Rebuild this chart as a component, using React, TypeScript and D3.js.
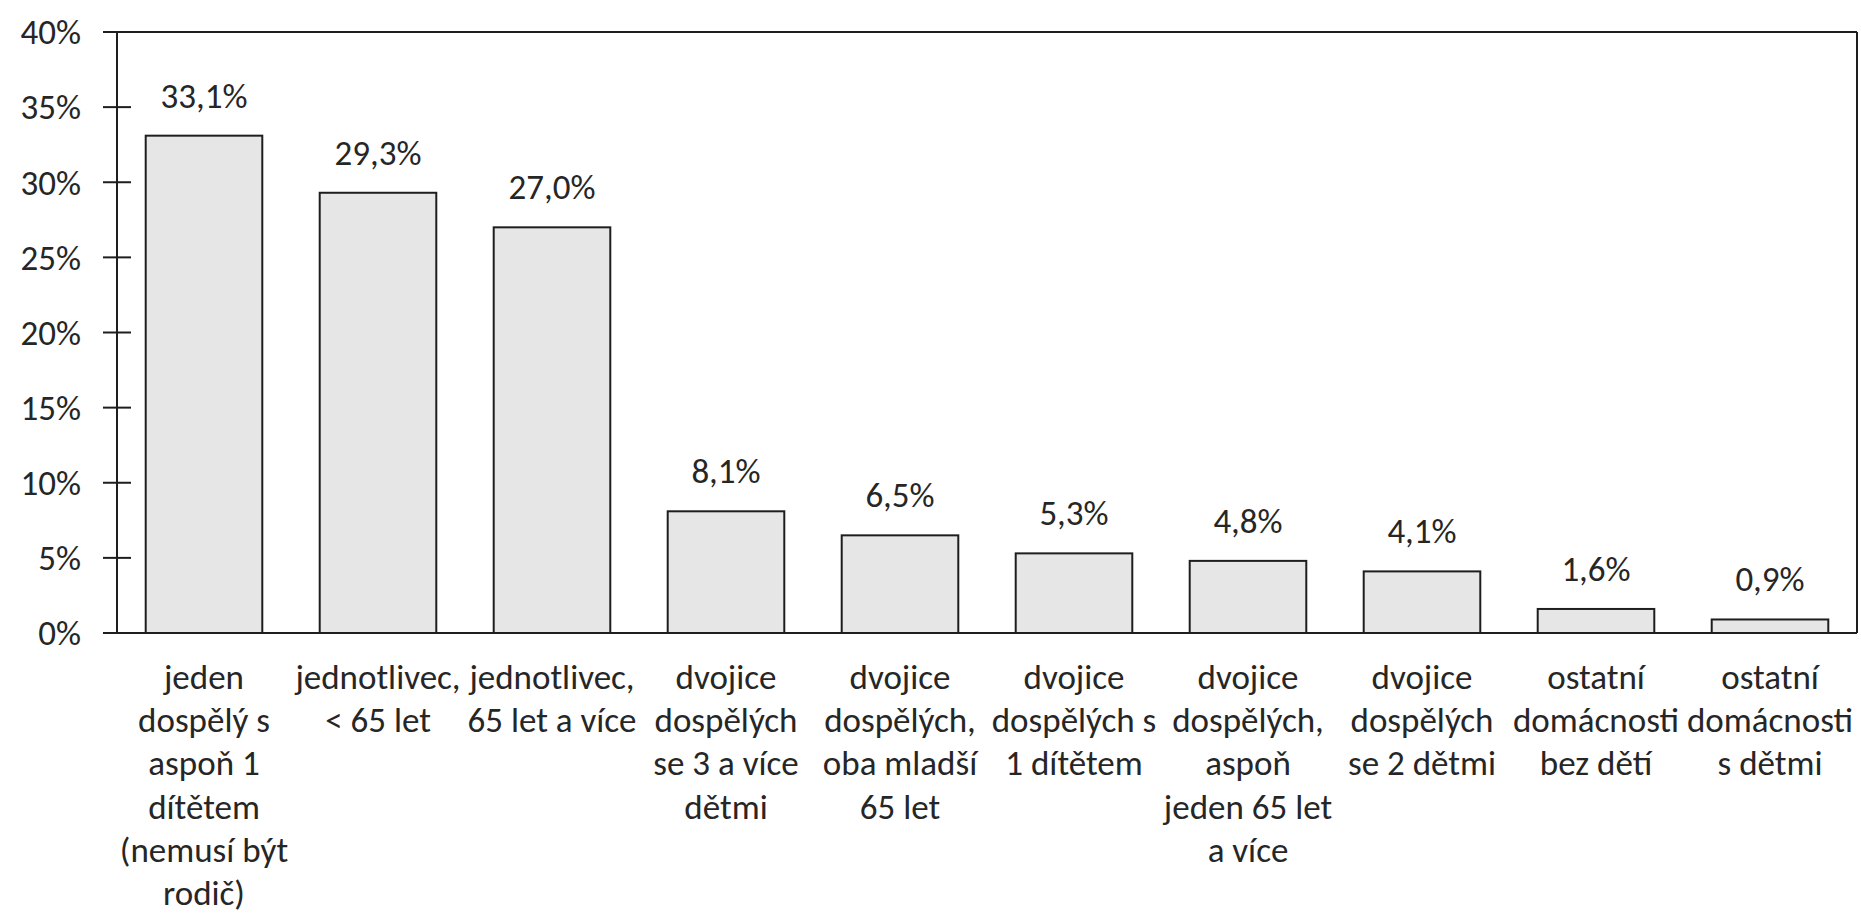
import React from 'react';
import * as d3 from 'd3';

// values in %
const values = [33.1, 29.3, 27.0, 8.1, 6.5, 5.3, 4.8, 4.1, 1.6, 0.9];
const valueLabels = ['33,1%', '29,3%', '27,0%', '8,1%', '6,5%', '5,3%', '4,8%', '4,1%', '1,6%', '0,9%'];
const categories = [
  ['jeden', 'dospělý s', 'aspoň 1', 'dítětem', '(nemusí být', 'rodič)'],
  ['jednotlivec,', '< 65 let'],
  ['jednotlivec,', '65 let a více'],
  ['dvojice', 'dospělých', 'se 3 a více', 'dětmi'],
  ['dvojice', 'dospělých,', 'oba mladší', '65 let'],
  ['dvojice', 'dospělých s', '1 dítětem'],
  ['dvojice', 'dospělých,', 'aspoň', 'jeden 65 let', 'a více'],
  ['dvojice', 'dospělých', 'se 2 dětmi'],
  ['ostatní', 'domácnosti', 'bez dětí'],
  ['ostatní', 'domácnosti', 's dětmi'],
];
const yTicks = [0, 5, 10, 15, 20, 25, 30, 35, 40];

const W = 1861;
const H = 913;
const left = 117;
const right = 1857;
const top = 32;
const bottom = 633;
const font = "Carlito, Calibri, Lato, sans-serif";
const fontSize = 35;
const textColor = '#262626';

const App: React.FC = () => {
  const x = d3.scaleBand<number>()
    .domain(d3.range(values.length))
    .range([left, right])
    .paddingInner(0.33)
    .paddingOuter(0.165);

  const y = d3.scaleLinear().domain([0, 40]).range([bottom, top]);

  return (
    <svg width={W} height={H} style={{ position: 'absolute', left: 0, top: 0, background: '#fff' }}
      fontFamily={font} fill={textColor}>
      {/* bars */}
      {values.map((v, i) => (
        <rect key={i} x={x(i)} y={y(v)} width={x.bandwidth()} height={y(0) - y(v)}
          fill="#e6e6e6" stroke="#1e1e1e" strokeWidth={2} />
      ))}
      {/* frame */}
      <line x1={left - 14} x2={right} y1={top} y2={top} stroke="#1e1e1e" strokeWidth={2} />
      <line x1={right} x2={right} y1={top} y2={bottom} stroke="#1e1e1e" strokeWidth={2} />
      <line x1={left} x2={left} y1={top} y2={bottom} stroke="#1e1e1e" strokeWidth={2} />
      <line x1={left - 14} x2={right} y1={bottom} y2={bottom} stroke="#1e1e1e" strokeWidth={2} />
      {/* y ticks */}
      {yTicks.map(t => (
        <g key={t}>
          <line x1={left - 14} x2={left + 14} y1={y(t)} y2={y(t)} stroke="#1e1e1e" strokeWidth={2} />
          <text x={81} y={y(t)} dy="0.35em" textAnchor="end" fontSize={fontSize}>{t}%</text>
        </g>
      ))}
      {/* value labels */}
      {values.map((v, i) => (
        <text key={i} x={x(i)! + x.bandwidth() / 2} y={y(v) - 28} textAnchor="middle" fontSize={fontSize}>
          {valueLabels[i]}
        </text>
      ))}
      {/* category labels */}
      {categories.map((lines, i) => (
        <text key={i} x={x(i)! + x.bandwidth() / 2} y={689} textAnchor="middle" fontSize={fontSize}>
          {lines.map((l, j) => (
            <tspan key={j} x={x(i)! + x.bandwidth() / 2} y={689 + j * 43.2}>{l}</tspan>
          ))}
        </text>
      ))}
    </svg>
  );
};

export default App;
